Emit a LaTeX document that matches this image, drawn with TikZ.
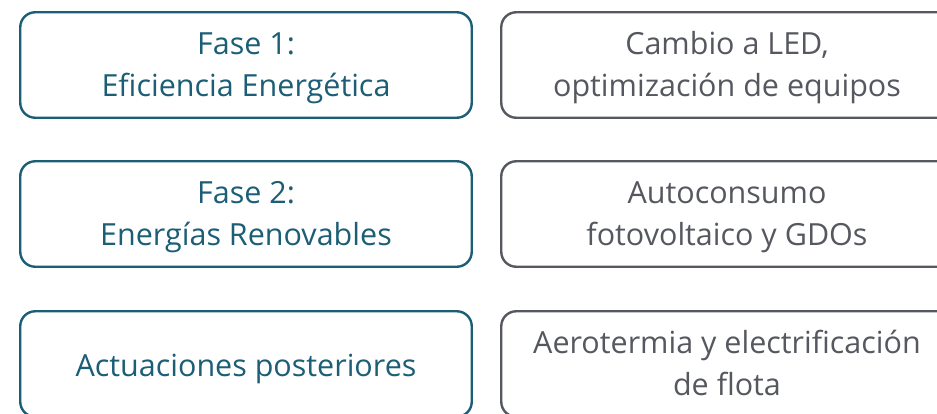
\documentclass[tikz,border=0pt]{standalone}
\usepackage{fontspec}
\setmainfont{Open Sans}
\definecolor{fasecol}{HTML}{1B5E75}
\definecolor{detcol}{HTML}{55585F}
\tikzset{
  fase/.style={draw=fasecol, text=fasecol, line width=2.4pt, rounded corners=15pt,
    minimum width=451.5pt, minimum height=105.5pt, inner sep=0pt, align=center,
    font=\fontsize{30.5}{42}\selectfont, text height=69.5pt, text depth=7pt},
  detalle/.style={fase, draw=detcol, text=detcol},
  unalinea/.style={text height=31pt}
}
\begin{document}
\begin{tikzpicture}[x=1pt,y=-1pt]
\useasboundingbox (0,0) rectangle (937,413);
\clip (0,0) rectangle (937,413);

% left column
\node[fase] (fase1) at (246,65) {Fase 1:\\Eficiencia Energética};
\node[fase] (fase2) at (246,214) {Fase 2:\\Energías Renovables};
\node[fase, unalinea] (post) at (246,364) {Actuaciones posteriores};

% right column
\node[detalle] (led) at (727,65) {Cambio a LED,\\optimización de equipos};
\node[detalle] (solar) at (727,214) {Autoconsumo\\fotovoltaico y GDOs};
\node[detalle] (flota) at (727,364) {Aerotermia y electrificación\\de flota};

\end{tikzpicture}
\end{document}
